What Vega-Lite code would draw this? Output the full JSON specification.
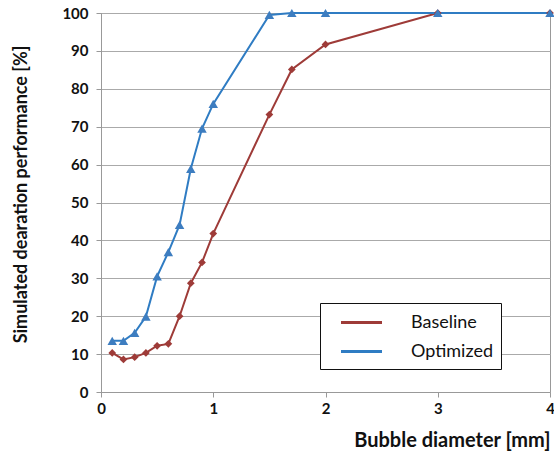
{
  "$schema": "https://vega.github.io/schema/vega-lite/v6.json",
  "width": 449,
  "height": 379,
  "autosize": {"type": "none"},
  "padding": {"left": 101, "top": 13, "right": 4, "bottom": 65},
  "background": "white",
  "config": {
    "font": "Lato",
    "view": {"stroke": "#999999", "strokeWidth": 1},
    "axis": {
      "domainColor": "#999999",
      "tickColor": "#999999",
      "gridColor": "#aaaaaa",
      "labelFont": "Lato",
      "labelFontWeight": "bold",
      "labelFontSize": 15,
      "labelColor": "#111111",
      "titleFont": "Lato",
      "titleFontWeight": "bold",
      "titleFontSize": 18,
      "titleColor": "#111111",
      "tickSize": 5
    }
  },
  "data": {
    "values": [
      {"d": 0.1, "p": 10.3, "s": "Baseline"},
      {"d": 0.2, "p": 8.6, "s": "Baseline"},
      {"d": 0.3, "p": 9.2, "s": "Baseline"},
      {"d": 0.4, "p": 10.3, "s": "Baseline"},
      {"d": 0.5, "p": 12.2, "s": "Baseline"},
      {"d": 0.6, "p": 12.7, "s": "Baseline"},
      {"d": 0.7, "p": 20.0, "s": "Baseline"},
      {"d": 0.8, "p": 28.7, "s": "Baseline"},
      {"d": 0.9, "p": 34.2, "s": "Baseline"},
      {"d": 1.0, "p": 41.8, "s": "Baseline"},
      {"d": 1.5, "p": 73.2, "s": "Baseline"},
      {"d": 1.7, "p": 85.1, "s": "Baseline"},
      {"d": 2.0, "p": 91.7, "s": "Baseline"},
      {"d": 3.0, "p": 100, "s": "Baseline"},
      {"d": 4.0, "p": 100, "s": "Baseline"},
      {"d": 0.1, "p": 13.5, "s": "Optimized"},
      {"d": 0.2, "p": 13.5, "s": "Optimized"},
      {"d": 0.3, "p": 15.6, "s": "Optimized"},
      {"d": 0.4, "p": 19.9, "s": "Optimized"},
      {"d": 0.5, "p": 30.5, "s": "Optimized"},
      {"d": 0.6, "p": 36.9, "s": "Optimized"},
      {"d": 0.7, "p": 44.1, "s": "Optimized"},
      {"d": 0.8, "p": 58.9, "s": "Optimized"},
      {"d": 0.9, "p": 69.5, "s": "Optimized"},
      {"d": 1.0, "p": 76.0, "s": "Optimized"},
      {"d": 1.5, "p": 99.5, "s": "Optimized"},
      {"d": 1.7, "p": 100, "s": "Optimized"},
      {"d": 2.0, "p": 100, "s": "Optimized"},
      {"d": 3.0, "p": 100, "s": "Optimized"},
      {"d": 4.0, "p": 100, "s": "Optimized"}
    ]
  },
  "encoding": {
    "x": {
      "field": "d",
      "type": "quantitative",
      "scale": {"domain": [0, 4], "nice": false},
      "axis": {
        "title": "Bubble diameter [mm]",
        "values": [0, 1, 2, 3, 4],
        "format": "d",
        "grid": false,
        "labelFlush": false,
        "labelPadding": 4,
        "titleFontSize": 20,
        "titleAnchor": "end",
        "titleAlign": "right",
        "titleX": 449,
        "titleY": 48,
        "titleBaseline": "middle"
      }
    },
    "y": {
      "field": "p",
      "type": "quantitative",
      "scale": {"domain": [0, 100], "nice": false},
      "axis": {
        "title": "Simulated dearation performance [%]",
        "values": [0, 10, 20, 30, 40, 50, 60, 70, 80, 90, 100],
        "labelFlush": false,
        "labelPadding": 8,
        "titleX": -80,
        "titleY": 181,
        "titleAnchor": "middle",
        "titleAlign": "center",
        "titleBaseline": "middle",
        "titleAngle": -90
      }
    }
  },
  "layer": [
    {
      "mark": {"type": "line", "strokeWidth": 2},
      "encoding": {
        "color": {
          "field": "s",
          "type": "nominal",
          "scale": {"domain": ["Baseline", "Optimized"], "range": ["#9e3b38", "#2f7cc3"]},
          "legend": {
            "title": null,
            "orient": "none",
            "legendX": 219,
            "legendY": 290,
            "strokeColor": "#111111",
            "fillColor": "white",
            "padding": 8,
            "symbolType": "M-2.05,0H2.05",
            "symbolSize": 400,
            "symbolStrokeWidth": 3,
            "symbolOffset": 22,
            "labelFont": "Lato",
            "labelFontSize": 18,
            "labelColor": "#111111",
            "labelOffset": 38,
            "rowPadding": 8,
            "labelExpr": "datum.label + '\u00a0\u00a0\u00a0\u00a0\u00a0\u00a0'"
          }
        }
      }
    },
    {
      "transform": [{"filter": "datum.s === 'Baseline'"}],
      "mark": {"type": "point", "filled": true, "opacity": 1, "shape": "diamond", "size": 60, "color": "#9e3b38"}
    },
    {
      "transform": [{"filter": "datum.s === 'Optimized'"}],
      "mark": {"type": "point", "filled": true, "opacity": 1, "shape": "triangle-up", "size": 90, "color": "#3d7dc0"}
    }
  ]
}
